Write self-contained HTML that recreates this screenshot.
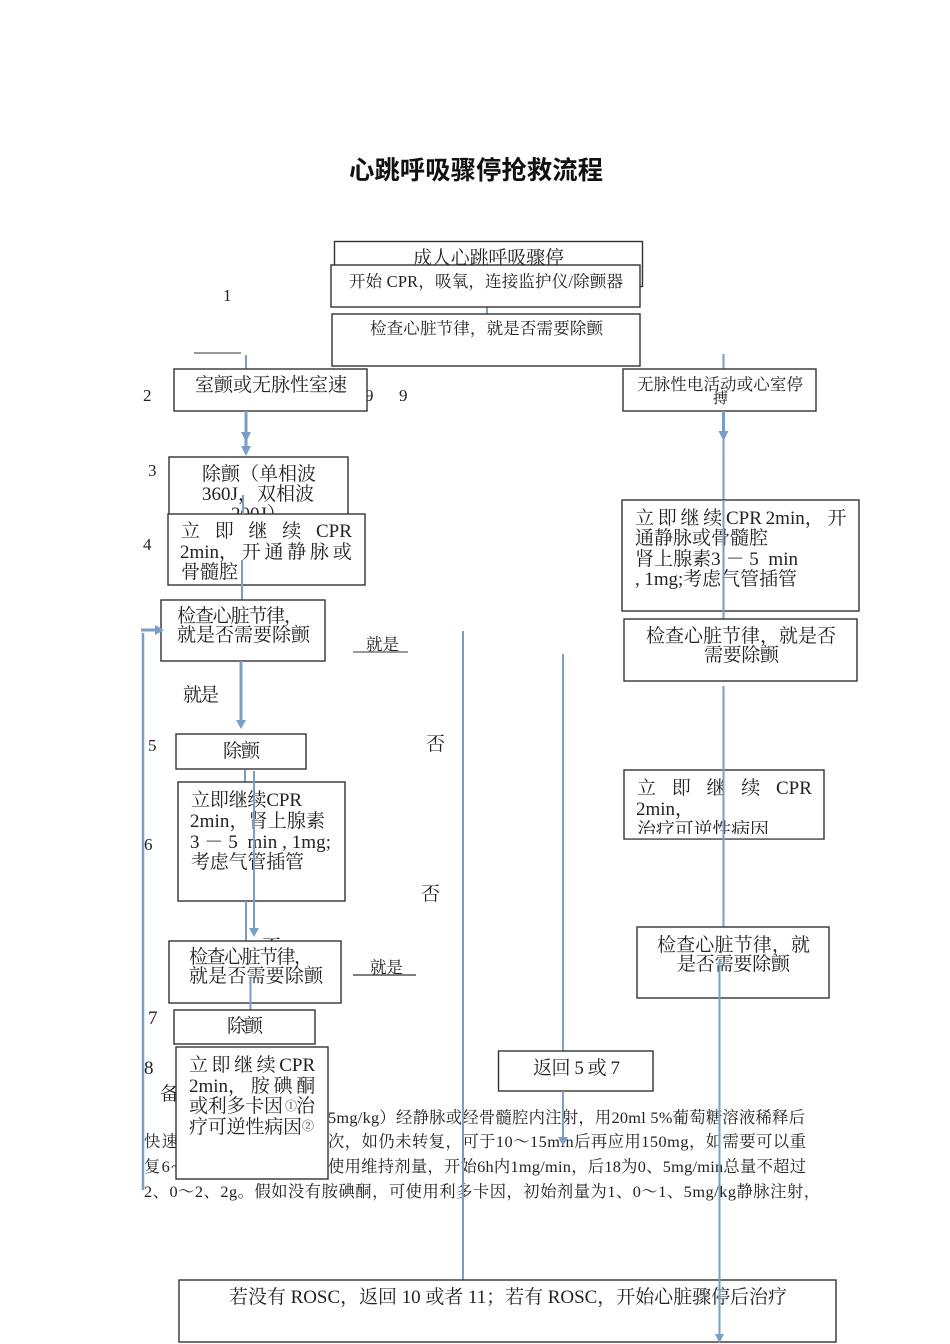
<!DOCTYPE html>
<html><head><meta charset="utf-8">
<style>
html,body{margin:0;padding:0;background:#fff;}
svg{display:block;}
text{font-family:"Liberation Serif","Noto Serif CJK SC",serif;fill:#222;}
.t{font-family:"Liberation Sans","Noto Sans CJK SC",sans-serif;font-weight:700;fill:#111;}
rect{fill:#fff;stroke:#333;stroke-width:1.4;}
.l{stroke:#7a9fc6;stroke-width:2;fill:none;}
.k{stroke:#7a9fc6;stroke-width:3;fill:none;}
.a{fill:#7a9fc6;stroke:none;}
.s{font-size:16.5px;}.m{font-size:19px;}.p{font-size:16.3px;}.n{font-size:17px;}
</style></head>
<body>
<svg width="950" height="1344" viewBox="0 0 950 1344" xmlns="http://www.w3.org/2000/svg">
<text class="t" x="349" y="179" font-size="25.400" textLength="254">心跳呼吸骤停抢救流程</text>

<text class="n" x="223" y="301">1</text>
<text class="n" x="143" y="401">2</text>
<text class="n" x="148" y="476">3</text>
<text class="n" x="143" y="550">4</text>
<text class="n" x="148" y="751">5</text>
<text class="n" x="144" y="850">6</text>
<text class="m" x="148" y="1024">7</text>
<text class="m" x="144" y="1074">8</text>
<text class="m" x="160" y="1100">备</text>
<text class="n" x="365" y="401">9</text>
<text class="n" x="399" y="401">9</text>
<line x1="194" y1="353" x2="241" y2="353" stroke="#333" stroke-width="1"/>

<!-- paragraph -->
<text class="p" x="328" y="1123" textLength="477">5mg/kg）经静脉或经骨髓腔内注射，用20ml 5%葡萄糖溶液稀释后</text>
<text class="p" x="144" y="1147" textLength="34">快速</text>
<text class="p" x="328" y="1147" textLength="478">次，如仍未转复，可于10～15min后再应用150mg，如需要可以重</text>
<text class="p" x="144" y="1172" textLength="36">复6~</text>
<text class="p" x="328" y="1172" textLength="478">使用维持剂量，开始6h内1mg/min，后18为0、5mg/min总量不超过</text>
<text class="p" x="144" y="1197" textLength="676">2、0～2、2g。假如没有胺碘酮，可使用利多卡因，初始剂量为1、0～1、5mg/kg静脉注射，</text>

<!-- top boxes -->
<rect x="334.500" y="241.500" width="308" height="45"/>
<text class="m" x="413" y="264" textLength="151">成人心跳呼吸骤停</text>
<line class="l" x1="487" y1="307" x2="487" y2="314"/>
<rect x="331" y="265" width="309" height="42"/>
<text class="s" x="349" y="287" textLength="274">开始 CPR，吸氧，连接监护仪/除颤器</text>
<rect x="332" y="314" width="308" height="52"/>
<text class="s" x="370" y="334" textLength="233">检查心脏节律，就是否需要除颤</text>

<!-- left column -->
<line class="l" x1="246" y1="355" x2="246" y2="369"/>
<rect x="174" y="369" width="193" height="42"/>
<text class="m" x="195" y="391" textLength="152">室颤或无脉性室速</text>
<line class="k" x1="246" y1="411" x2="246" y2="450"/>
<polygon class="a" points="241,432 251,432 246,442"/>
<polygon class="a" points="241,446 251,446 246,456"/>

<rect x="169" y="457" width="179" height="70"/>
<text class="m" x="202" y="480" textLength="114">除颤（单相波</text>
<text class="m" x="202" y="500" textLength="112">360J，双相波</text>
<text class="m" x="231" y="520">200J）</text>
<rect x="168" y="514" width="197" height="71"/>
<line class="l" x1="243" y1="495" x2="243" y2="514"/>
<text class="m" x="181" y="537" word-spacing="10">立 即 继 续 CPR</text>
<text class="m" x="180" y="558" word-spacing="-1">2min， 开 通 静 脉 或</text>
<text class="m" x="181" y="578" textLength="57">骨髓腔</text>
<line class="l" x1="242" y1="560" x2="242" y2="600"/>

<rect x="161" y="600" width="164" height="61"/>
<text class="m" x="177" y="622" textLength="126">检查心脏节律，</text>
<text class="m" x="177" y="641" textLength="133">就是否需要除颤</text>
<line class="k" x1="241" y1="661" x2="241" y2="721"/>
<polygon class="a" points="236,720 246,720 241,729"/>
<text class="m" x="183" y="701" textLength="36">就是</text>

<line class="k" x1="141" y1="630" x2="156" y2="630"/>
<polygon class="a" points="155,625 164,630 155,635"/>
<line class="l" x1="143" y1="633" x2="143" y2="1190" style="stroke-width:2.500"/>

<text class="s" x="366" y="650" textLength="33">就是</text>
<line x1="353" y1="652" x2="408" y2="652" stroke="#333" stroke-width="1"/>

<rect x="176" y="734" width="130" height="35"/>
<text class="m" x="223" y="757" textLength="37">除颤</text>
<line class="l" x1="245" y1="770" x2="245" y2="782"/>

<text class="m" x="426" y="750">否</text>
<text class="m" x="421" y="900">否</text>
<text class="m" x="262" y="953">否</text>

<rect x="178" y="782" width="167" height="119"/>
<text class="m" x="191" y="806" textLength="111">立即继续CPR</text>
<text class="m" x="190" y="827" textLength="135">2min，肾上腺素</text>
<text class="m" x="190" y="848" textLength="141" xml:space="preserve">3 － 5  min , 1mg;</text>
<text class="m" x="191" y="868" textLength="113">考虑气管插管</text>
<line class="l" x1="254" y1="771" x2="254" y2="930"/>
<polygon class="a" points="249,928 259,928 254,937"/>
<line class="l" x1="246" y1="901" x2="246" y2="941"/>

<rect x="169" y="941" width="172" height="62"/>
<text class="m" x="189" y="963" textLength="124">检查心脏节律，</text>
<text class="m" x="189" y="982" textLength="134">就是否需要除颤</text>
<line class="l" x1="250.500" y1="978" x2="250.500" y2="1010"/>
<text class="s" x="370" y="973" textLength="33">就是</text>
<line x1="353" y1="975" x2="416" y2="975" stroke="#333" stroke-width="1.200"/>

<rect x="174" y="1010" width="141" height="34"/>
<text class="m" x="227" y="1032" textLength="36">除颤</text>
<rect x="176" y="1047" width="152" height="132"/>
<text class="m" x="189" y="1071" word-spacing="-1.200">立 即 继 续 CPR</text>
<text class="m" x="189" y="1092" word-spacing="-1">2min， 胺 碘 酮</text>
<text class="m" x="189" y="1112" textLength="94">或利多卡因</text>
<text x="285" y="1110" font-size="12">①</text>
<text class="m" x="296" y="1112">治</text>
<text class="m" x="189" y="1133" textLength="113">疗可逆性病因</text>
<text x="302" y="1130" font-size="12">②</text>

<!-- middle lines -->
<line class="l" x1="463" y1="631" x2="463" y2="1280"/>
<line class="l" x1="563" y1="654" x2="563" y2="1051"/>
<rect x="498.500" y="1051" width="154.500" height="40"/>
<text class="m" x="533" y="1074" textLength="87">返回 5 或 7</text>
<line class="l" x1="563" y1="1091" x2="563" y2="1140"/>
<polygon class="a" points="558,1137 568,1137 563,1146"/>

<!-- right column -->
<line class="l" x1="723.500" y1="354" x2="723.500" y2="369"/>
<rect x="623" y="369" width="193" height="42"/>
<text class="s" x="637" y="390" textLength="166">无脉性电活动或心室停</text>
<text x="713" y="403" font-size="15">搏</text>
<line class="k" x1="723.500" y1="411" x2="723.500" y2="432"/>
<line class="l" x1="723.500" y1="432" x2="723.500" y2="500"/>
<polygon class="a" points="718.500,431 728.500,431 723.500,441"/>
<rect x="622" y="500" width="237" height="111"/>
<text class="m" x="635" y="524" word-spacing="-1">立 即 继 续 CPR 2min， 开</text>
<text class="m" x="635" y="544" textLength="133">通静脉或骨髓腔</text>
<text class="m" x="635" y="565" textLength="163" xml:space="preserve">肾上腺素3 － 5  min</text>
<text class="m" x="635" y="585" textLength="162">, 1mg;考虑气管插管</text>
<line class="l" x1="723.500" y1="500" x2="723.500" y2="619"/>
<rect x="624" y="619" width="233" height="62"/>
<text class="m" x="646" y="642" textLength="190">检查心脏节律，就是否</text>
<text class="m" x="704" y="661" textLength="75">需要除颤</text>

<rect x="624" y="770" width="200" height="69"/>
<text class="m" x="637" y="794" word-spacing="11">立 即 继 续 CPR</text>
<text class="m" x="636" y="815">2min</text>
<text class="m" x="675" y="815">，</text>
<text class="m" x="637" y="836" textLength="132">治疗可逆性病因</text>
<rect x="625" y="834" width="198" height="4.300" style="stroke:none"/>
<line class="l" x1="723.500" y1="686" x2="723.500" y2="927"/>

<rect x="637" y="927" width="192" height="71"/>
<text class="m" x="657" y="951" textLength="153">检查心脏节律，就</text>
<text class="m" x="677" y="970" textLength="113">是否需要除颤</text>

<rect x="179" y="1280" width="657" height="62"/>
<text class="m" x="229" y="1303" textLength="558">若没有 ROSC，返回 10 或者 11；若有 ROSC，开始心脏骤停后治疗</text>

<line class="l" x1="719.500" y1="960" x2="719.500" y2="1336"/>
<polygon class="a" points="715,1334 724,1334 719.500,1343"/>
</svg>
</body></html>
